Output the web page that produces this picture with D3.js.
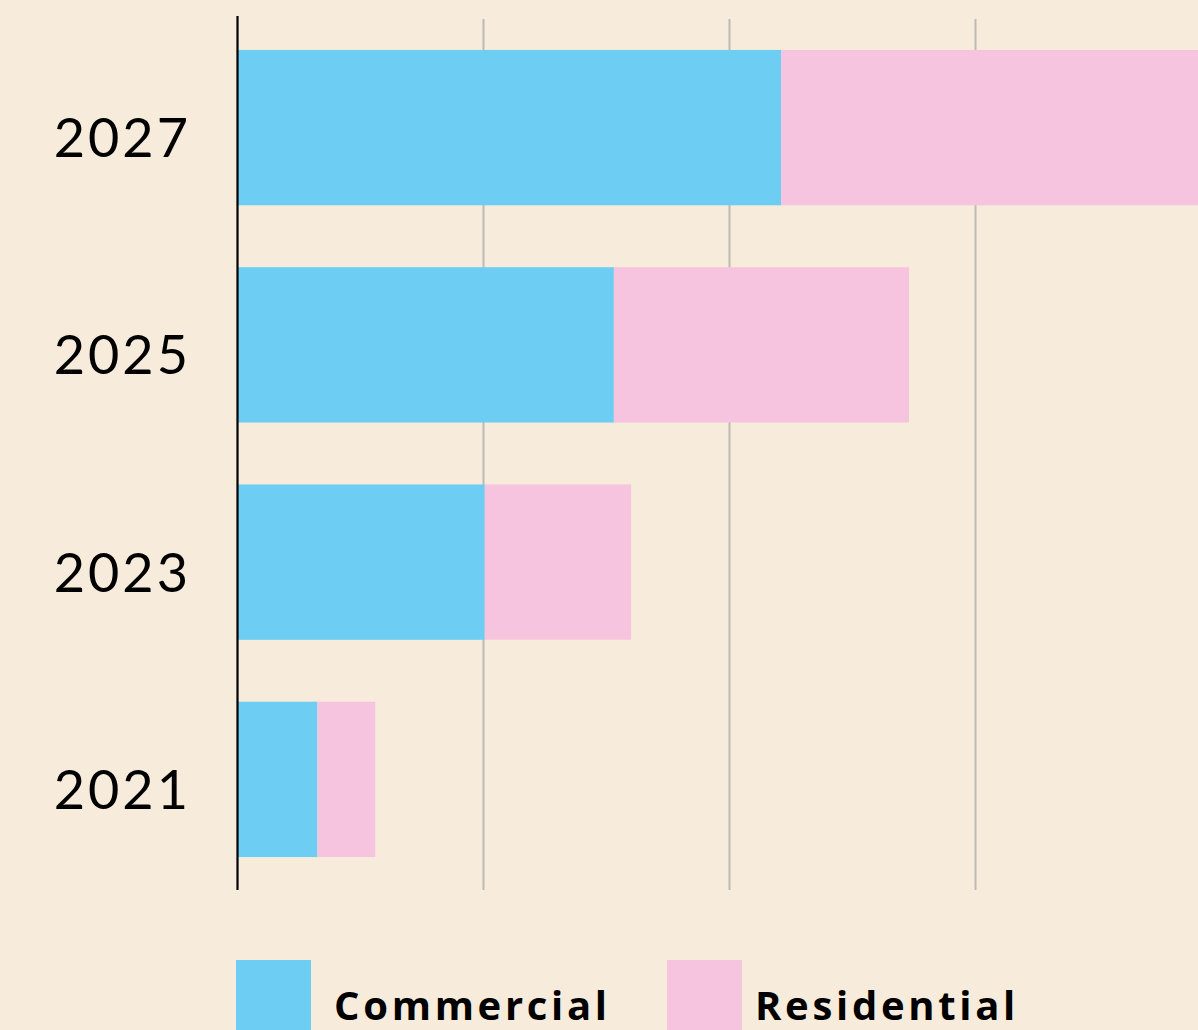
<!DOCTYPE html>
<html>
<head>
<meta charset="utf-8">
<script src="https://cdn.jsdelivr.net/npm/d3@7"></script>
<style>
  html, body { margin: 0; padding: 0; background: #f7ecdb; }
  svg { display: block; }
</style>
</head>
<body>
<svg id="chart"></svg>
<script>
const width = 1198;
const height = 1030;

// data
const years = ["2027", "2025", "2023", "2021"];
const commercial = [22.1, 15.3, 10.05, 3.25];
const residential = [17.5, 12.0, 5.95, 2.35];
const gridTicks = [10, 20, 30];
const seriesNames = ["Commercial", "Residential"];
const colors = ["#6dcdf3", "#f6c4de"];

const rows = years.map((y, i) => ({ year: y, Commercial: commercial[i], Residential: residential[i] }));

const svg = d3.select("#chart")
    .attr("width", width)
    .attr("height", height)
    .style("background", "#f7ecdb");

const x = d3.scaleLinear()
    .domain([0, 10])
    .range([237.5, 483.5]);

const y = d3.scaleBand()
    .domain(years)
    .range([19, 888])
    .paddingInner(0.285)
    .paddingOuter(0.1425);

// gridlines
svg.append("g")
    .selectAll("line")
    .data(gridTicks)
    .join("line")
    .attr("x1", d => x(d))
    .attr("x2", d => x(d))
    .attr("y1", 19)
    .attr("y2", 890)
    .attr("stroke", "#bdbab5")
    .attr("stroke-width", 2);

// stacked bars
const stack = d3.stack().keys(seriesNames)(rows);

svg.append("g")
    .selectAll("g")
    .data(stack)
    .join("g")
    .attr("fill", (d, i) => colors[i])
    .selectAll("rect")
    .data(d => d)
    .join("rect")
    .attr("x", d => x(d[0]))
    .attr("y", d => y(d.data.year))
    .attr("width", d => x(d[1]) - x(d[0]))
    .attr("height", y.bandwidth());

// y axis line
svg.append("line")
    .attr("x1", 237.5)
    .attr("x2", 237.5)
    .attr("y1", 16)
    .attr("y2", 890)
    .attr("stroke", "#000")
    .attr("stroke-width", 2.2);

// year labels
svg.append("g")
    .selectAll("text")
    .data(years)
    .join("text")
    .attr("x", 191)
    .attr("y", d => y(d) + y.bandwidth() / 2 + 10)
    .attr("dy", "0.36em")
    .attr("text-anchor", "end")
    .style("font-family", "Lato, sans-serif")
    .style("font-size", "54px")
    .style("letter-spacing", "3px")
    .style("fill", "#000")
    .text(d => d);

// legend
const legendPos = [
    { sx: 236, tx: 334 },
    { sx: 667, tx: 755 }
];

const legend = svg.append("g")
    .selectAll("g")
    .data(seriesNames)
    .join("g");

legend.append("rect")
    .attr("x", (d, i) => legendPos[i].sx)
    .attr("y", 960)
    .attr("width", 75)
    .attr("height", 80)
    .attr("fill", (d, i) => colors[i]);

legend.append("text")
    .attr("x", (d, i) => legendPos[i].tx)
    .attr("y", 1020)
    .style("font-family", "'Open Sans', sans-serif")
    .style("font-weight", 700)
    .style("font-size", "40px")
    .style("letter-spacing", "3.7px")
    .style("fill", "#000")
    .text(d => d);
</script>
</body>
</html>
